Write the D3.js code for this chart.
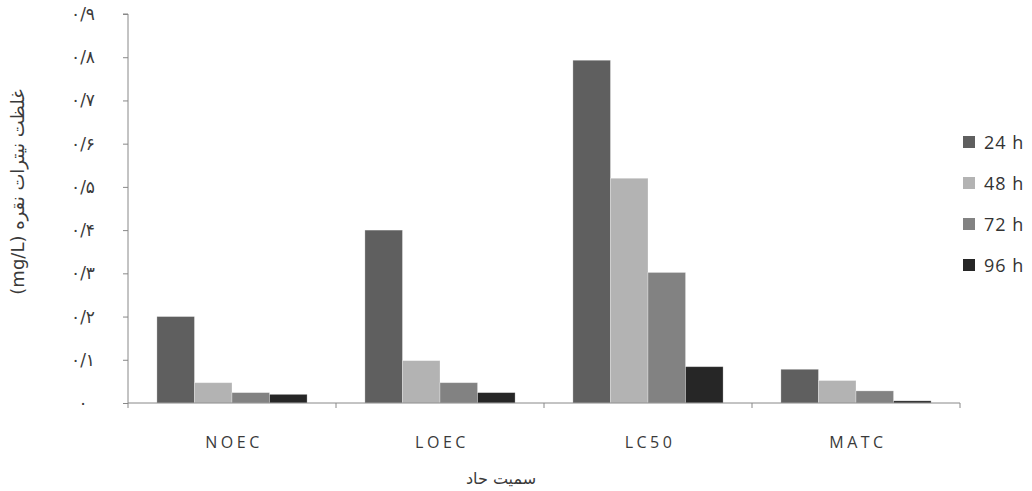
<!DOCTYPE html>
<html>
<head>
<meta charset="utf-8">
<script src="https://cdn.jsdelivr.net/npm/d3@7"></script>
<style>
  body { margin: 0; background: #fff; }
  svg { display: block; }
</style>
</head>
<body>
<script>
// categories and series
var categories = ['NOEC', 'LOEC', 'LC50', 'MATC'];
var seriesNames = ['24 h', '48 h', '72 h', '96 h'];
var seriesColors = ['#5f5f5f', '#b3b3b3', '#828282', '#262626'];

var values24 = [0.20, 0.40, 0.793, 0.078];
var values48 = [0.047, 0.098, 0.52, 0.052];
var values72 = [0.024, 0.047, 0.302, 0.028];
var values96 = [0.020, 0.024, 0.084, 0.005];

var yTicks = [0, 0.1, 0.2, 0.3, 0.4, 0.5, 0.6, 0.7, 0.8, 0.9];
var yTickLabels = ['۰', '۰/۱', '۰/۲', '۰/۳', '۰/۴', '۰/۵', '۰/۶', '۰/۷', '۰/۸', '۰/۹'];

var yTitle = 'غلظت نیترات نقره (mg/L)';
var xTitle = 'سمیت حاد';

var width = 1032;
var height = 491;
var axisColor = '#888';
var textColor = '#3a3a3a';

var allValues = [values24, values48, values72, values96];
var data = categories.map(function(c, i) {
  return {
    cat: c,
    vals: seriesNames.map(function(s, j) { return { name: s, v: allValues[j][i], color: seriesColors[j] }; })
  };
});

var svg = d3.select('body').append('svg')
  .attr('width', width)
  .attr('height', height);

var x0 = d3.scaleBand().domain(categories).range([128, 960]).padding(0);
var x1 = d3.scaleBand().domain(seriesNames).range([0, x0.bandwidth()]).paddingInner(0).paddingOuter(0.77);
var y = d3.scaleLinear().domain([0, 0.9]).range([403, 14]);

// bars
svg.append('g').selectAll('g')
  .data(data)
  .join('g')
  .attr('transform', function(d) { return 'translate(' + x0(d.cat) + ',0)'; })
  .selectAll('rect')
  .data(function(d) { return d.vals; })
  .join('rect')
  .attr('x', function(d) { return x1(d.name); })
  .attr('y', function(d) { return y(d.v); })
  .attr('width', x1.bandwidth())
  .attr('height', function(d) { return y(0) - y(d.v); })
  .attr('fill', function(d) { return d.color; })
  .attr('stroke', 'rgba(255,255,255,0.35)')
  .attr('stroke-width', 0.8);

// y axis
var yAxis = d3.axisLeft(y)
  .tickValues(yTicks)
  .tickSize(5)
  .tickPadding(40)
  .tickFormat(function(d, i) { return yTickLabels[i]; });

var gy = svg.append('g')
  .attr('transform', 'translate(128,0)')
  .call(yAxis);
gy.select('.domain').attr('stroke', axisColor).attr('d', 'M-5,14H0V403');
gy.selectAll('.tick line').attr('stroke', axisColor);
gy.selectAll('.tick text')
  .attr('fill', textColor)
  .style('font-family', '"DejaVu Sans", sans-serif')
  .style('font-size', '17px')
  .attr('text-anchor', 'middle')
  .attr('direction', 'ltr');

// x axis with ticks at category boundaries
var gx = svg.append('g')
  .attr('transform', 'translate(0,403)');
gx.append('line')
  .attr('x1', x0.range()[0]).attr('x2', x0.range()[1])
  .attr('stroke', axisColor);
var bounds = categories.map(function(c) { return x0(c); }).concat([x0.range()[1]]);
gx.selectAll('line.tk')
  .data(bounds)
  .join('line')
  .attr('class', 'tk')
  .attr('x1', function(d) { return d; })
  .attr('x2', function(d) { return d; })
  .attr('y1', 0).attr('y2', 5)
  .attr('stroke', axisColor);
gx.selectAll('text')
  .data(categories)
  .join('text')
  .attr('x', function(d) { return x0(d) + x0.bandwidth() / 2 + 2; })
  .attr('y', 45)
  .attr('text-anchor', 'middle')
  .attr('fill', textColor)
  .style('font-family', '"Open Sans", sans-serif')
  .style('font-size', '16px')
  .style('letter-spacing', '3.5px')
  .text(function(d) { return d; });

// axis titles
svg.append('text')
  .attr('transform', 'translate(24,192) rotate(-90)')
  .attr('text-anchor', 'middle')
  .attr('fill', textColor)
  .style('direction', 'rtl')
  .style('unicode-bidi', 'embed')
  .style('font-family', '"DejaVu Sans", sans-serif')
  .style('font-size', '18px')
  .text(yTitle);

svg.append('text')
  .attr('x', 501)
  .attr('y', 484)
  .attr('text-anchor', 'middle')
  .attr('fill', textColor)
  .style('direction', 'rtl')
  .style('font-family', '"DejaVu Sans", sans-serif')
  .style('font-size', '16px')
  .text(xTitle);

// legend
var legend = svg.append('g').selectAll('g')
  .data(seriesNames)
  .join('g')
  .attr('transform', function(d, i) { return 'translate(963,' + (142 + i * 41) + ')'; });
legend.append('rect')
  .attr('x', 0).attr('y', -6)
  .attr('width', 12).attr('height', 12)
  .attr('fill', function(d, i) { return seriesColors[i]; });
legend.append('text')
  .attr('x', 21)
  .attr('y', 7)
  .attr('fill', '#333')
  .style('font-family', '"Open Sans", sans-serif')
  .style('font-size', '18px')
  .style('letter-spacing', '1px')
  .text(function(d) { return d; });
</script>
</body>
</html>
